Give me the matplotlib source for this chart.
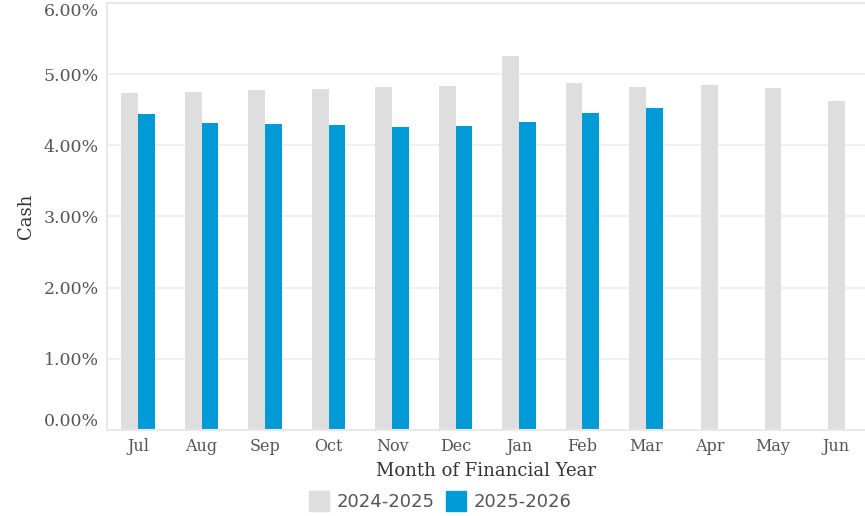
import numpy as np
import matplotlib.pyplot as plt
from matplotlib.patches import Patch

# monthly cash rates (%)
months = ['Jul', 'Aug', 'Sep', 'Oct', 'Nov', 'Dec', 'Jan', 'Feb', 'Mar', 'Apr', 'May', 'Jun']
fy2425 = [4.74, 4.75, 4.78, 4.79, 4.82, 4.83, 5.26, 4.88, 4.82, 4.85, 4.81, 4.62]
fy2526 = [4.44, 4.31, 4.30, 4.29, 4.26, 4.27, 4.33, 4.45, 4.52, np.nan, np.nan, np.nan]
yticks = [0, 1, 2, 3, 4, 5, 6]

grey = '#dedede'
blue = '#009ad6'
txt = '#555555'

fig = plt.figure(figsize=(8.65, 5.16), dpi=100)
ax = fig.add_axes([0.1237, 0.1667, 0.8763, 0.8275])

x = np.arange(len(months))
w = 0.265
b2 = np.array(fy2526, dtype=float)
has2 = ~np.isnan(b2)
# grey bars are centred when there is no 2025-2026 value
off1 = np.where(has2, -w / 2, 0.0)
ax.bar(x + off1, fy2425, width=w, color=grey, zorder=2)
ax.bar(x[has2] + w / 2, b2[has2], width=w, color=blue, zorder=2)

ax.set_xlim(-0.49, 11.45)
ax.set_ylim(0, 6)
ax.set_yticks(yticks)
ax.set_yticklabels(['%.2f%%' % v for v in yticks])
ax.set_xticks(x)
ax.set_xticklabels(months)
ax.grid(axis='y', color='#eeeeee', linewidth=1.3, zorder=0)
ax.set_axisbelow(True)

for s in ['left', 'top', 'bottom']:
    ax.spines[s].set_color('#e8e8e8')
    ax.spines[s].set_linewidth(1.5)
ax.spines['right'].set_visible(False)

ax.tick_params(length=0, pad=6, colors=txt)
for lab in ax.get_yticklabels():
    lab.set_family('DejaVu Serif')
    lab.set_fontsize(12.5)
for lab in ax.get_xticklabels():
    lab.set_family('DejaVu Serif')
    lab.set_fontsize(11.5)
ylabs = ax.get_yticklabels()
ylabs[0].set_va('bottom')
ylabs[-1].set_va('top')

ax.set_xlabel('Month of Financial Year', family='DejaVu Serif', fontsize=13, color='#333333', labelpad=5)
ax.set_ylabel('Cash', family='DejaVu Serif', fontsize=13, color='#333333', labelpad=6)

handles = [Patch(color=grey, label='2024-2025'), Patch(color=blue, label='2025-2026')]
fig.legend(handles=handles, loc='lower center', bbox_to_anchor=(0.509, -0.022), ncol=2, frameon=False,
           fontsize=13, handlelength=1.1, handleheight=1.3, handletextpad=0.45, columnspacing=0.6,
           labelcolor=txt)

plt.savefig('out.png', dpi=100)
